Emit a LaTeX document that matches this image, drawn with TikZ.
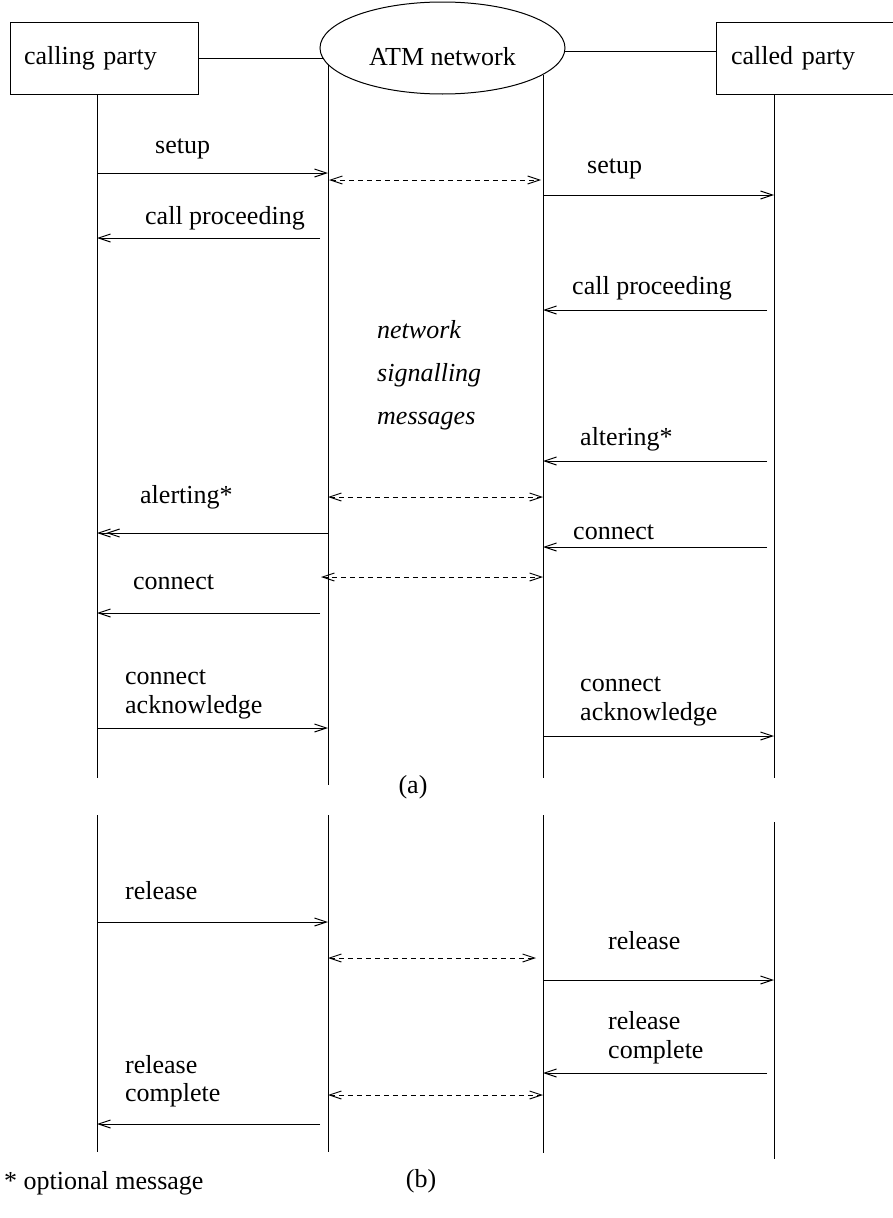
\documentclass[tikz,border=0pt]{standalone}
\usepackage{fontspec}
\setmainfont{Liberation Serif}
\usetikzlibrary{arrows.meta,shapes.geometric}
\begin{document}
\begin{tikzpicture}[x=1pt,y=-1pt,
  every node/.style={font=\fontsize{26}{29}\selectfont, inner sep=0pt},
  party/.style={draw, line width=1pt, minimum height=72pt, align=left, text width=160pt, inner xsep=14pt},
  life/.style={line width=1pt},
  msg/.style={line width=1pt, -{Straight Barb[length=12pt,width=8pt]}},
  dblmsg/.style={line width=1pt, -{Straight Barb[length=12pt,width=8pt,sep=-5pt]Straight Barb[length=12pt,width=8pt]}},
  dmsg/.style={line width=0.9pt, dash pattern=on 5pt off 4pt, {Straight Barb[length=12pt,width=8pt]}-{Straight Barb[length=12pt,width=8pt]}},
  lbl/.style={anchor=base west},
  itlbl/.style={anchor=base west, font=\fontsize{26}{29}\selectfont\itshape},
  captionlbl/.style={anchor=base},
]
\useasboundingbox (0,0) rectangle (893,1218);
\fill[white] (0,0) rectangle (893,1218);

% participants
\node[party, minimum width=188pt] (caller) at (104,58) {calling party};
\node[draw, ellipse, line width=1pt, minimum width=245pt, minimum height=92pt, text height=34pt, text depth=0pt] (atm) at (442.5,48) {ATM network};
\node[party, minimum width=200pt, inner xsep=15pt, text width=170pt] (called) at (816,58) {called party};

\coordinate (aL) at (323,58);
\coordinate (aR) at (564,51);
\draw[life] (caller.east) -- (aL);
\draw[life] (aR) -- (aR -| called.west);

% lifelines (a)
\coordinate (A1t) at (97,94);   \coordinate (A1b) at (97,778);
\coordinate (A2t) at (328,65);  \coordinate (A2b) at (328,785);
\coordinate (A3t) at (543,75);  \coordinate (A3b) at (543,778);
\coordinate (A4t) at (774,94);  \coordinate (A4b) at (774,778);
\draw[life] (A1t) -- (A1b);
\draw[life] (A2t) -- (A2b);
\draw[life] (A3t) -- (A3b);
\draw[life] (A4t) -- (A4b);

% lifelines (b)
\coordinate (B1t) at (97,815);  \coordinate (B1b) at (97,1152);
\coordinate (B2t) at (328,815); \coordinate (B2b) at (328,1152);
\coordinate (B3t) at (543,815); \coordinate (B3b) at (543,1153);
\coordinate (B4t) at (774,822); \coordinate (B4b) at (774,1159);
\draw[life] (B1t) -- (B1b);
\draw[life] (B2t) -- (B2b);
\draw[life] (B3t) -- (B3b);
\draw[life] (B4t) -- (B4b);

% messages (a)
\coordinate (m1s) at (97,173);   \coordinate (m1e) at (328,173);
\coordinate (d1s) at (329,180);  \coordinate (d1e) at (541,180);
\coordinate (m2s) at (543,195);  \coordinate (m2e) at (774,195);
\coordinate (m3s) at (320,238);  \coordinate (m3e) at (97,238);
\coordinate (m4s) at (767,310);  \coordinate (m4e) at (543,310);
\coordinate (m5s) at (767,461);  \coordinate (m5e) at (543,461);
\coordinate (d2s) at (328,497);  \coordinate (d2e) at (543,497);
\coordinate (m6s) at (328,533);  \coordinate (m6e) at (97,533);
\coordinate (m7s) at (767,547);  \coordinate (m7e) at (543,547);
\coordinate (d3s) at (321,577);  \coordinate (d3e) at (543,577);
\coordinate (m8s) at (320,613);  \coordinate (m8e) at (97,613);
\coordinate (m9s) at (97,728);   \coordinate (m9e) at (328,728);
\coordinate (m10s) at (543,736); \coordinate (m10e) at (774,736);
\draw[msg] (m1s) -- (m1e);
\draw[dmsg] (d1s) -- (d1e);
\draw[msg] (m2s) -- (m2e);
\draw[msg] (m3s) -- (m3e);
\draw[msg] (m4s) -- (m4e);
\draw[msg] (m5s) -- (m5e);
\draw[dmsg] (d2s) -- (d2e);
\draw[dblmsg] (m6s) -- (m6e);
\draw[msg] (m7s) -- (m7e);
\draw[dmsg] (d3s) -- (d3e);
\draw[msg] (m8s) -- (m8e);
\draw[msg] (m9s) -- (m9e);
\draw[msg] (m10s) -- (m10e);

% messages (b)
\coordinate (n1s) at (97,922);   \coordinate (n1e) at (328,922);
\coordinate (e1s) at (328,958);  \coordinate (e1e) at (536,958);
\coordinate (n2s) at (543,980);  \coordinate (n2e) at (774,980);
\coordinate (n3s) at (767,1073); \coordinate (n3e) at (543,1073);
\coordinate (e2s) at (328,1095); \coordinate (e2e) at (543,1095);
\coordinate (n4s) at (320,1124); \coordinate (n4e) at (97,1124);
\draw[msg] (n1s) -- (n1e);
\draw[dmsg] (e1s) -- (e1e);
\draw[msg] (n2s) -- (n2e);
\draw[msg] (n3s) -- (n3e);
\draw[dmsg] (e2s) -- (e2e);
\draw[msg] (n4s) -- (n4e);

% labels (a)
\node[lbl] (t1) at (155,153) {setup};
\node[lbl] (t2) at (587,173) {setup};
\node[lbl] (t3) at (145,224) {call proceeding};
\node[lbl] (t4) at (572,294) {call proceeding};
\node[itlbl] (i1) at (377,338) {network};
\node[itlbl] (i2) at (377,381) {signalling};
\node[itlbl] (i3) at (377,424) {messages};
\node[lbl] (t5) at (580,445) {altering*};
\node[lbl] (t6) at (140,503) {alerting*};
\node[lbl] (t7) at (573,539) {connect};
\node[lbl] (t8) at (133,589) {connect};
\node[lbl] (t9a) at (125,684) {connect};
\node[lbl] (t9b) at (125,713) {acknowledge};
\node[lbl] (t10a) at (580,691) {connect};
\node[lbl] (t10b) at (580,720) {acknowledge};
\node[captionlbl] (capa) at (413,793) {(a)};

% labels (b)
\node[lbl] (r1) at (125,899) {release};
\node[lbl] (r2) at (608,949) {release};
\node[lbl] (r3a) at (608,1029) {release};
\node[lbl] (r3b) at (608,1058) {complete};
\node[lbl] (r4a) at (125,1073) {release};
\node[lbl] (r4b) at (125,1101) {complete};
\node[lbl] (note) at (4,1189) {* optional message};
\node[captionlbl] (capb) at (421,1187) {(b)};
\end{tikzpicture}
\end{document}
